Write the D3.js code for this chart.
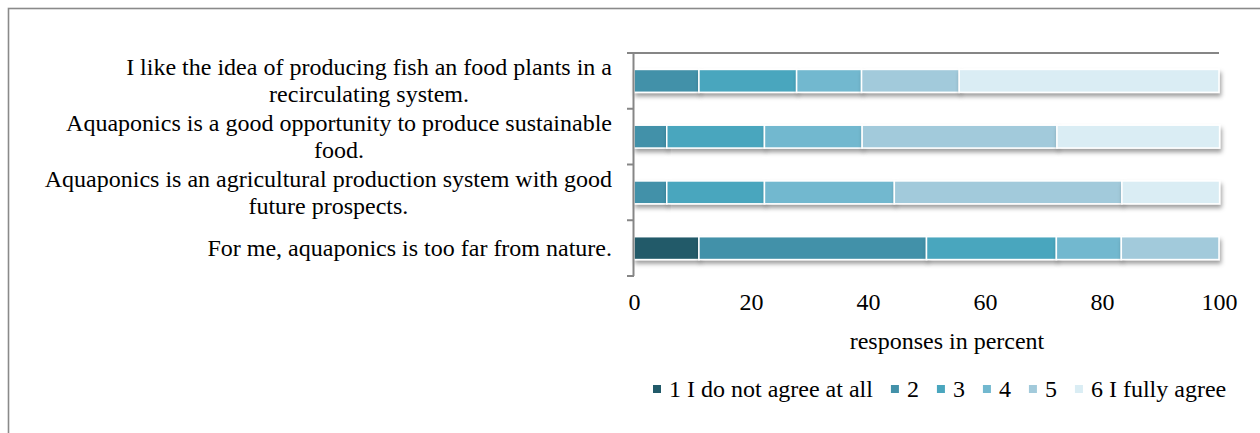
<!DOCTYPE html>
<html><head><meta charset="utf-8">
<script src="https://cdn.jsdelivr.net/npm/d3@7"></script>
<style>
html,body{margin:0;padding:0;background:#fff;}
svg text{font-family:"Liberation Serif","Times New Roman",serif !important;fill:#000;}
</style></head>
<body><svg id="chart" width="1260" height="433"></svg>
<script>
const categories = [
  "I like the idea of producing fish an food plants in a recirculating system.",
  "Aquaponics is a good opportunity to produce sustainable food.",
  "Aquaponics is an agricultural production system with good future prospects.",
  "For me, aquaponics is too far from nature."
];
const seriesNames = ["1 I do not agree at all","2","3","4","5","6 I fully agree"];
const s1 = [0, 0, 0, 11.1];
const s2 = [11.1, 5.6, 5.6, 38.9];
const s3 = [16.7, 16.7, 16.7, 22.2];
const s4 = [11.1, 16.7, 22.2, 11.1];
const s5 = [16.7, 33.3, 38.9, 16.7];
const s6 = [44.4, 27.8, 16.7, 0];
const seriesValues = [s1, s2, s3, s4, s5, s6];
const colors = ["#215a69","#4391a9","#4aa6be","#72b8cf","#a2cadb","#daedf4"];
const xTicks = [0,20,40,60,80,100];
const xTitle = "responses in percent";

const FS = 24;
const svg = d3.select("#chart");
const defs = svg.append("defs");
const f = defs.append("filter").attr("id","sh").attr("x","-5%").attr("y","-30%").attr("width","115%").attr("height","190%");
f.append("feDropShadow").attr("dx",1.5).attr("dy",3.5).attr("stdDeviation",2).attr("flood-color","#000").attr("flood-opacity",0.38);

// outer frame
svg.append("rect").attr("x",8.5).attr("y",8.5).attr("width",1300).attr("height",500)
  .attr("fill","none").attr("stroke","#8a8a8a").attr("stroke-width",1.6);

const x0 = 634, x1 = 1219, yTop = 53, yBot = 276;
const x = d3.scaleLinear().domain([0,100]).range([x0,x1]);
const y = d3.scaleBand().domain(categories).range([yTop,yBot]).paddingInner(0.59).paddingOuter(0.295);
const yb = d3.scaleBand().domain(categories).range([yTop,yBot]);

// stacked data
const table = categories.map((c,i)=>{const o={cat:c}; seriesNames.forEach((s,j)=>o[s]=seriesValues[j][i]); return o;});
const stack = d3.stack().keys(seriesNames)(table);

const gBars = svg.append("g");
stack.forEach((layer,j)=>{
  gBars.selectAll(null).data(layer.filter(d=>d[1]-d[0]>0)).enter().append("rect")
    .attr("x",d=>x(d[0])).attr("width",d=>x(d[1])-x(d[0]))
    .attr("y",d=>y(d.data.cat)).attr("height",y.bandwidth())
    .attr("fill",colors[j]).attr("stroke","#fff").attr("stroke-width",1.5)
    .attr("filter","url(#sh)");
});

// axes lines
const axCol = "#868686";
svg.append("line").attr("x1",627).attr("x2",x1).attr("y1",yTop).attr("y2",yTop).attr("stroke",axCol).attr("stroke-width",2);
svg.append("line").attr("x1",x0-0.5).attr("x2",x0-0.5).attr("y1",yTop).attr("y2",yBot).attr("stroke",axCol).attr("stroke-width",2);
const bounds = categories.map(c=>yb(c)).concat([yBot]);
svg.selectAll(null).data(bounds).enter().append("line")
  .attr("x1",627).attr("x2",x0).attr("y1",d=>d).attr("y2",d=>d).attr("stroke",axCol).attr("stroke-width",2);

// x tick labels
const xa = d3.axisBottom(x).tickValues(xTicks).tickSize(0).tickPadding(0);
const gx = svg.append("g").attr("transform","translate(0,310)").call(xa);
gx.attr("font-family",null).attr("font-size",null);
gx.select(".domain").remove();
gx.selectAll("text").attr("font-size",FS).attr("dy",0).attr("fill","#000");

svg.append("text").attr("x",947).attr("y",349).attr("text-anchor","middle").attr("font-size",FS).text(xTitle);

// category labels with wrapping
const wrapW = 575, rightX = 612, lh = 27;
const meas = svg.append("text").attr("font-size",FS).attr("visibility","hidden");
function tw(s){meas.text(s); return meas.node().getComputedTextLength();}
categories.forEach(c=>{
  const words = c.split(" "); const lines=[]; let cur="";
  words.forEach(w=>{const t=cur?cur+" "+w:w; if(tw(t)>wrapW && cur){lines.push(cur);cur=w;} else cur=t;});
  lines.push(cur);
  const maxW = d3.max(lines,tw);
  const cx = rightX - maxW/2;
  const cy = yb(c)+yb.bandwidth()/2;
  lines.forEach((l,i)=>{
    svg.append("text").attr("x",cx).attr("text-anchor","middle").attr("font-size",FS)
      .attr("y",cy+(i-(lines.length-1)/2)*lh+FS*0.32).text(l);
  });
});

// legend
let lx = 653;
seriesNames.forEach((s,j)=>{
  svg.append("rect").attr("x",lx).attr("y",385).attr("width",8).attr("height",8).attr("fill",colors[j]);
  const t = svg.append("text").attr("x",lx+16).attr("y",397).attr("font-size",FS).text(s);
  lx = lx+16+t.node().getComputedTextLength()+18;
});
meas.remove();
</script></body></html>
